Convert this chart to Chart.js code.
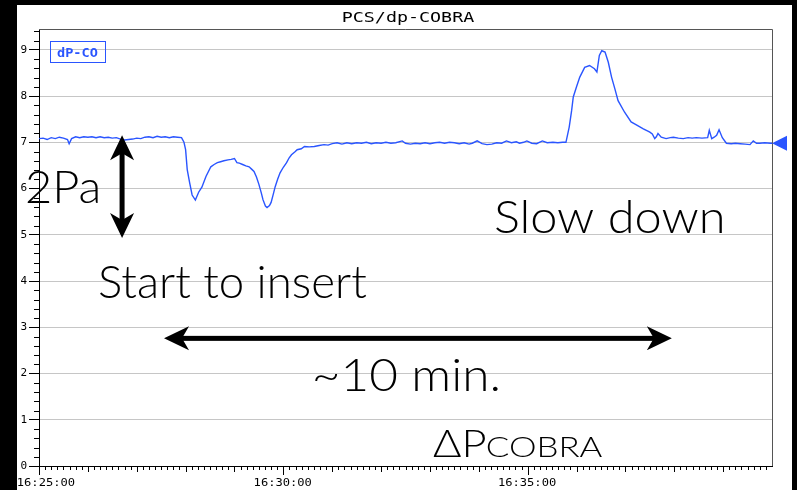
<!DOCTYPE html>
<html>
<head>
<meta charset="utf-8">
<script src="https://cdn.jsdelivr.net/npm/chart.js@4.4.1/dist/chart.umd.min.js"></script>
<style>
  html, body { margin: 0; padding: 0; background: #fff; }
  canvas { display: block; }
</style>
</head>
<body>
<canvas id="chart" width="797" height="490"></canvas>
<script>
// ─── Data (seconds after 16:25:00, dP in Pa) ─────
const sampleSeconds = [
  0, 5, 10, 15, 20, 25, 30, 35, 37, 40,
  45, 50, 55, 60, 65, 70, 75, 80, 85, 90,
  95, 100, 105, 110, 115, 120, 125, 130, 135, 140,
  145, 150, 155, 160, 165, 170, 175,
  178, 180, 182, 185, 188, 192, 196, 200, 205, 211,
  215, 219, 223, 227, 232, 236, 240, 243, 246, 250,
  254, 258, 261, 264, 267, 270, 273, 275, 278, 280,
  283, 285, 288, 290, 293, 296, 300, 304, 307, 310,
  314, 317, 322, 326, 332, 338, 344, 350, 355, 360,
  366, 372, 378, 384, 390, 396, 402, 408, 414, 420,
  426, 432, 438, 446, 450, 456, 462, 468, 474, 480,
  486, 492, 498, 504, 510, 516, 522, 528, 532, 538,
  544, 550, 556, 562, 568, 574, 580, 586, 590, 595,
  599, 605, 611, 618, 624, 631, 637, 643, 647, 651,
  654, 656, 660, 664, 670, 676, 682, 685, 688, 691,
  695, 699, 703, 707, 711, 719, 727, 734, 742, 750,
  753, 756, 758, 760, 764, 770, 775, 779, 785, 791,
  797, 802, 807, 814, 821, 823, 826, 829, 832, 835,
  839, 844, 850, 855, 861, 867, 873, 877, 881, 885,
  891, 898, 900,
];
const dpValues = [
  7.08, 7.09, 7.06, 7.10, 7.08, 7.11, 7.09, 7.06, 6.97, 7.08,
  7.12, 7.10, 7.12, 7.11, 7.12, 7.10, 7.12, 7.10, 7.11, 7.09,
  7.10, 7.07, 7.05, 7.06, 7.07, 7.09, 7.08, 7.11, 7.12, 7.10,
  7.13, 7.11, 7.12, 7.10, 7.12, 7.11, 7.10,
  7.00, 6.84, 6.41, 6.12, 5.86, 5.75, 5.92, 6.03, 6.26, 6.47,
  6.52, 6.56, 6.58, 6.60, 6.62, 6.63, 6.65, 6.56, 6.55, 6.52,
  6.49, 6.47, 6.42, 6.37, 6.25, 6.09, 5.90, 5.76, 5.62, 5.59,
  5.63, 5.70, 5.90, 6.04, 6.20, 6.34, 6.46, 6.56, 6.66, 6.73,
  6.79, 6.84, 6.86, 6.91, 6.90, 6.91, 6.93, 6.95, 6.94, 6.97,
  6.99, 6.96, 6.99, 6.97, 6.99, 6.98, 7.00, 6.97, 6.99, 6.98,
  7.00, 6.98, 6.99, 7.03, 6.98, 6.96, 6.98, 6.97, 6.99, 6.97,
  6.99, 7.00, 6.98, 7.00, 6.99, 6.97, 6.99, 6.96, 6.98, 7.03,
  6.97, 6.95, 6.96, 6.99, 6.98, 7.03, 6.99, 7.01, 6.98, 7.00,
  7.03, 6.98, 6.97, 7.03, 6.99, 7.00, 6.99, 7.00, 7.00, 7.33,
  7.69, 7.98, 8.20, 8.41, 8.62, 8.66, 8.59, 8.52, 8.88, 8.98,
  8.95, 8.73, 8.41, 8.16, 7.90, 7.65, 7.44, 7.37, 7.29, 7.22,
  7.18, 7.08, 7.12, 7.19, 7.11, 7.08, 7.10, 7.11, 7.09, 7.08,
  7.10, 7.09, 7.10, 7.09, 7.10, 7.26, 7.08, 7.11, 7.15, 7.27,
  7.10, 6.98, 6.97, 6.98, 6.97, 6.96, 6.95, 7.03, 6.98, 6.98,
  6.99, 6.98, 6.98,
];
const xTickSeconds = [0, 300, 600];
const xTickLabels = ['16:25:00', '16:30:00', '16:35:00'];
const yTickValues = [0, 1, 2, 3, 4, 5, 6, 7, 8, 9];
const seriesName = 'dP-CO';
const chartTitle = 'PCS/dp-COBRA';

const BLUE = '#2a55ff';
const MONO = "'DejaVu Sans Mono', monospace";
const NOTE = "Lato, 'Open Sans', sans-serif";

// draw text so its ink fills [left, left+width] on the given baseline
function fitText(ctx, text, left, baseline, width, font, color) {
  ctx.save();
  ctx.font = font;
  ctx.fillStyle = color || '#000';
  ctx.textAlign = 'left';
  ctx.textBaseline = 'alphabetic';
  const m = ctx.measureText(text);
  const ink = m.actualBoundingBoxLeft + m.actualBoundingBoxRight;
  const sx = width / ink;
  ctx.translate(left + m.actualBoundingBoxLeft * sx, baseline);
  ctx.scale(sx, 1);
  ctx.fillText(text, 0, 0);
  ctx.restore();
}

// double-headed arrow with swept-back heads
function drawArrow(ctx, x1, y1, x2, y2) {
  const len = Math.hypot(x2 - x1, y2 - y1);
  const L = 25, W = 24, S = 5;
  ctx.save();
  ctx.translate(x1, y1);
  ctx.rotate(Math.atan2(y2 - y1, x2 - x1));
  ctx.fillStyle = '#000';
  ctx.fillRect(L * 0.7, -S / 2, len - L * 1.4, S);
  ctx.beginPath();
  ctx.moveTo(0, 0); ctx.lineTo(L, -W / 2); ctx.lineTo(L * 0.72, 0); ctx.lineTo(L, W / 2);
  ctx.closePath();
  ctx.moveTo(len, 0); ctx.lineTo(len - L, -W / 2); ctx.lineTo(len - L * 0.72, 0); ctx.lineTo(len - L, W / 2);
  ctx.closePath();
  ctx.fill();
  ctx.restore();
}

const framePlugin = {
  id: 'frame',
  beforeDraw(chart) {
    const ctx = chart.ctx;
    ctx.save();
    ctx.fillStyle = '#fff';
    ctx.fillRect(0, 0, chart.width, chart.height);
    ctx.restore();
  },
  afterDraw(chart) {
    const { ctx, chartArea: a, scales: { x, y } } = chart;
    ctx.save();

    // top / right frame
    ctx.strokeStyle = '#555';
    ctx.lineWidth = 1;
    ctx.beginPath();
    ctx.moveTo(a.left, a.top + 0.5);
    ctx.lineTo(a.right + 0.5, a.top + 0.5);
    ctx.lineTo(a.right + 0.5, a.bottom);
    ctx.stroke();

    // minor ticks
    ctx.strokeStyle = '#000';
    ctx.beginPath();
    for (let i = 1; i * 0.2 < 9.45; i++) {
      if (i % 5 === 0) continue;
      const py = Math.round(y.getPixelForValue(i * 0.2)) + 0.5;
      ctx.moveTo(a.left - 5, py);
      ctx.lineTo(a.left, py);
    }
    for (let i = 0; i * 7.5 < 900; i++) {
      const s = i * 7.5;
      const px = Math.round(x.getPixelForValue(s)) + 0.5;
      const len = s % 300 === 0 ? 9 : s % 60 === 0 ? 6 : 4;
      ctx.moveTo(px, a.bottom);
      ctx.lineTo(px, a.bottom + len);
    }
    ctx.stroke();

    // x tick labels
    xTickLabels.forEach((lbl, i) => {
      const cx = x.getPixelForValue(xTickSeconds[i]);
      fitText(ctx, lbl, Math.max(18, cx - 28.5), 486, 57, `10px ${MONO}`);
    });

    // title
    fitText(ctx, chartTitle, 343, 22, 132, `14px ${MONO}`);

    // legend box
    ctx.strokeStyle = BLUE;
    ctx.strokeRect(50.5, 41.5, 55, 21);
    fitText(ctx, seriesName, 57, 57, 41, `bold 13px ${MONO}`, BLUE);

    // current value marker
    const ly = y.getPixelForValue(dpValues[dpValues.length - 1]);
    ctx.fillStyle = BLUE;
    ctx.beginPath();
    ctx.moveTo(a.right, ly);
    ctx.lineTo(a.right + 15, ly - 7.5);
    ctx.lineTo(a.right + 15, ly + 7.5);
    ctx.closePath();
    ctx.fill();

    // annotations
    drawArrow(ctx, x.getPixelForValue(102), y.getPixelForValue(7.15), x.getPixelForValue(102), y.getPixelForValue(4.93));
    drawArrow(ctx, x.getPixelForValue(153.5), y.getPixelForValue(2.76), x.getPixelForValue(777), y.getPixelForValue(2.76));
    fitText(ctx, '2Pa', 27, 203, 71, `300 46px ${NOTE}`);
    fitText(ctx, 'Slow down', 496, 233, 226, `300 46px ${NOTE}`);
    fitText(ctx, 'Start to insert', 100, 298, 267, `300 46px ${NOTE}`);
    fitText(ctx, '~10 min.', 315, 391, 183, `300 46px ${NOTE}`);
    fitText(ctx, '\u0394P', 433, 457, 52, `300 37px ${NOTE}`);
    fitText(ctx, 'COBRA', 487, 457, 115, `300 28px ${NOTE}`);

    // black screen edges
    ctx.fillStyle = '#000';
    ctx.fillRect(0, 0, 17, chart.height);
    ctx.fillRect(0, 0, chart.width, 5);
    ctx.fillRect(792, 0, chart.width - 792, chart.height);
    ctx.restore();
  },
};

new Chart(document.getElementById('chart'), {
  type: 'line',
  data: {
    datasets: [{
      label: seriesName,
      data: sampleSeconds.map((s, i) => ({ x: s, y: dpValues[i] })),
      borderColor: BLUE,
      borderWidth: 1.4,
      pointRadius: 0,
      tension: 0,
    }],
  },
  options: {
    responsive: false,
    animation: false,
    devicePixelRatio: 1,
    layout: { padding: { top: 29, right: 25, left: 0, bottom: 0 } },
    plugins: { legend: { display: false }, tooltip: { enabled: false } },
    scales: {
      x: {
        type: 'linear', min: 0, max: 900,
        afterBuildTicks: s => { s.ticks = xTickSeconds.map(v => ({ value: v })); },
        afterFit: s => { s.height = 24; },
        ticks: { display: false },
        grid: { display: false },
        border: { color: '#000' },
      },
      y: {
        min: 0, max: 9.45,
        afterBuildTicks: s => { s.ticks = yTickValues.map(v => ({ value: v })); },
        afterFit: s => { s.width = 39; },
        ticks: { font: { family: MONO, size: 11 }, color: '#000', padding: 2 },
        grid: { color: '#c6c6c6', tickColor: '#000', tickLength: 10 },
        border: { color: '#000' },
      },
    },
  },
  plugins: [framePlugin],
});
</script>
</body>
</html>
